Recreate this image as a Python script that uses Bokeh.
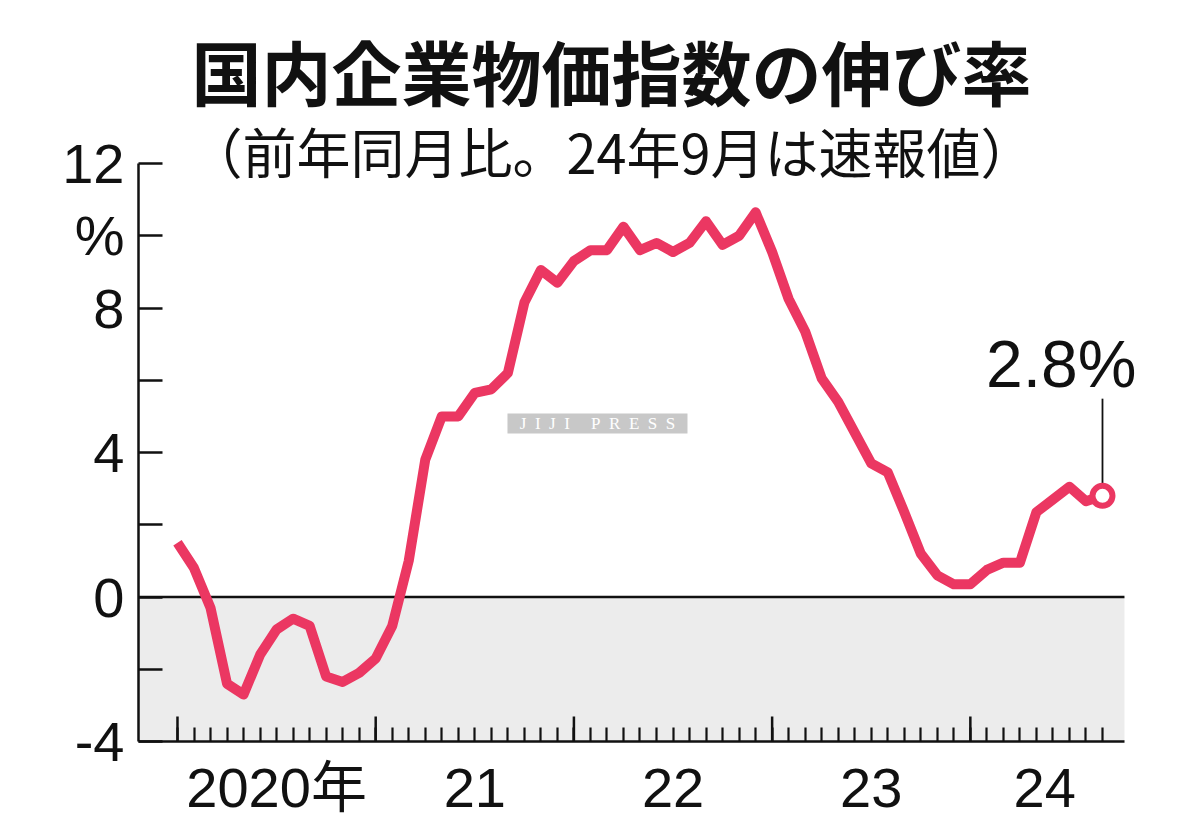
from bokeh.plotting import figure
from bokeh.models import Range1d, FixedTicker, BoxAnnotation
from bokeh.core.properties import value
from bokeh.embed import file_html
from bokeh.resources import INLINE

# ---------------- data ----------------
title_text = "国内企業物価指数の伸び率"
subtitle_text = "（前年同月比。24年9月は速報値）"
year_labels = ["2020年", "21", "22", "23", "24"]
# monthly year-on-year change (%), Jan 2020 .. Sep 2024
values_2020 = [1.5, 0.8, -0.3, -2.4, -2.7, -1.6, -0.9, -0.6, -0.8, -2.2, -2.35, -2.1]
values_2021 = [-1.7, -0.8, 1.0, 3.8, 5.0, 5.0, 5.65, 5.75, 6.2, 8.15, 9.05, 8.7]
values_2022 = [9.3, 9.6, 9.6, 10.25, 9.6, 9.8, 9.55, 9.8, 10.4, 9.75, 10.0, 10.65]
values_2023 = [9.55, 8.25, 7.35, 6.05, 5.4, 4.55, 3.7, 3.45, 2.35, 1.2, 0.6, 0.35]
values_2024 = [0.35, 0.75, 0.95, 0.95, 2.35, 2.7, 3.05, 2.65, 2.8]
y_ticks = [-4, -2, 0, 2, 4, 6, 8, 10, 12]
y_tick_labels = ["-4", "", "0", "", "4", "", "8", "%", "12"]
NB = "\u00a0"
watermark_text = (NB * 2).join("JIJI") + NB * 5 + (NB * 2).join("PRESS")

values = values_2020 + values_2021 + values_2022 + values_2023 + values_2024
xs = list(range(len(values)))
yearly = [values_2020, values_2021, values_2022, values_2023, values_2024]
note_text = f"{values[-1]}%"

# ---------------- style / geometry ----------------
PINK = "#EB3762"
BLACK = "#111111"
LATIN = "Liberation Sans, Arial, Noto Sans CJK JP, sans-serif"
CJK = "Noto Sans CJK JP, sans-serif"
W, H = 1184, 824
X_MIN, X_MAX = -2.36, 57.33          # extent of the axis box
Y_MIN, Y_MAX = -4, 12
PX_X = 16.518                         # px per month
PX_Y = 36.125                         # px per percentage point
LEFT, BOTTOM = 138, 741               # frame left / axis position on the page
x_right = X_MIN + (W - LEFT) / PX_X
y_top = Y_MIN + BOTTOM / PX_Y

p = figure(width=W, height=H, output_backend="svg", toolbar_location=None,
           title=None,
           x_range=Range1d(X_MIN, x_right), y_range=Range1d(Y_MIN, y_top),
           min_border_left=LEFT, min_border_right=0,
           min_border_top=0, min_border_bottom=H - BOTTOM)
p.outline_line_color = None
p.grid.visible = False
p.background_fill_color = "white"
p.border_fill_color = "white"

# negative area shading + zero line
p.add_layout(BoxAnnotation(top=0, right=X_MAX, fill_color="#ececec", fill_alpha=1.0,
                           line_color=None, level="underlay"))
p.segment(x0=[X_MIN], y0=[0], x1=[X_MAX], y1=[0], line_color=BLACK, line_width=2.5)

# x axis: monthly minor ticks, labels at mid-year, long ticks at January
label_x = []
year_starts = []
idx = 0
for yv in yearly:
    year_starts.append(idx)
    label_x.append(idx + (len(yv) - 1) / 2 + 0.5)
    idx += len(yv)

xa = p.xaxis[0]
xa.bounds = (X_MIN, X_MAX)
xa.ticker = FixedTicker(ticks=label_x, minor_ticks=xs)
xa.major_label_overrides = dict(zip(label_x, year_labels))
xa.axis_line_color = BLACK
xa.axis_line_width = 2.5
xa.minor_tick_in = 14
xa.minor_tick_out = 0
xa.minor_tick_line_color = BLACK
xa.minor_tick_line_width = 2.2
xa.major_tick_in = 0
xa.major_tick_out = 0
xa.major_label_standoff = 14
xa.major_label_text_font = LATIN
xa.major_label_text_font_size = "56px"
xa.major_label_text_color = BLACK

tick_len = 25 / PX_Y
p.segment(x0=year_starts, y0=[Y_MIN] * len(year_starts), x1=year_starts,
          y1=[Y_MIN + tick_len] * len(year_starts), line_color=BLACK, line_width=2.5)

# y axis
ya = p.yaxis[0]
ya.bounds = (Y_MIN, Y_MAX)
ya.ticker = FixedTicker(ticks=y_ticks)
ya.major_label_overrides = dict(zip(y_ticks, y_tick_labels))
ya.axis_line_color = BLACK
ya.axis_line_width = 2.5
ya.major_tick_in = 24
ya.major_tick_out = 0
ya.major_tick_line_color = BLACK
ya.major_tick_line_width = 2.5
ya.minor_tick_in = 0
ya.minor_tick_out = 0
ya.major_label_standoff = 14
ya.major_label_text_font = LATIN
ya.major_label_text_font_size = "56px"
ya.major_label_text_color = BLACK

# watermark
wm_x, wm_y = (597 - 177) / PX_X, (596.5 - 423) / PX_Y
p.rect(x=[wm_x], y=[wm_y], width=180, height=20, width_units="screen",
       height_units="screen", fill_color="#c8c8c8", line_color=None)
p.text(x=[wm_x], y=[wm_y], text=[watermark_text], text_align="center",
       text_baseline="middle", text_font=value("Liberation Serif"),
       text_font_size="17px", text_color="white")

# data line
p.line(xs, values, line_color=PINK, line_width=10, line_join="round")

# end point + annotation
x_last, v_last = xs[-1], values[-1]
p.segment(x0=[x_last], y0=[v_last + 0.29], x1=[x_last], y1=[v_last + 2.69],
          line_color=BLACK, line_width=1.8)
p.scatter([x_last], [v_last], size=20, fill_color="white", line_color=PINK,
          line_width=6)
p.text(x=[x_last - 2.5], y=[v_last + 3.64], text=[note_text], text_align="center",
       text_baseline="middle", text_font=value(LATIN),
       text_font_size="66px", text_color=BLACK)

# titles (drawn in the open area above the axis box)
cx = (611 - 177) / PX_X
p.text(x=[cx], y=[(596.5 - 70) / PX_Y], text=[title_text], text_align="center",
       text_baseline="middle", text_font=value(CJK), text_font_style="bold",
       text_font_size="70px", text_color=BLACK)
p.text(x=[cx], y=[(596.5 - 150) / PX_Y], text=[subtitle_text], text_align="center",
       text_baseline="middle", text_font=value(CJK),
       text_font_size="54px", text_color=BLACK)

open("out.html", "w").write(file_html(p, INLINE))
